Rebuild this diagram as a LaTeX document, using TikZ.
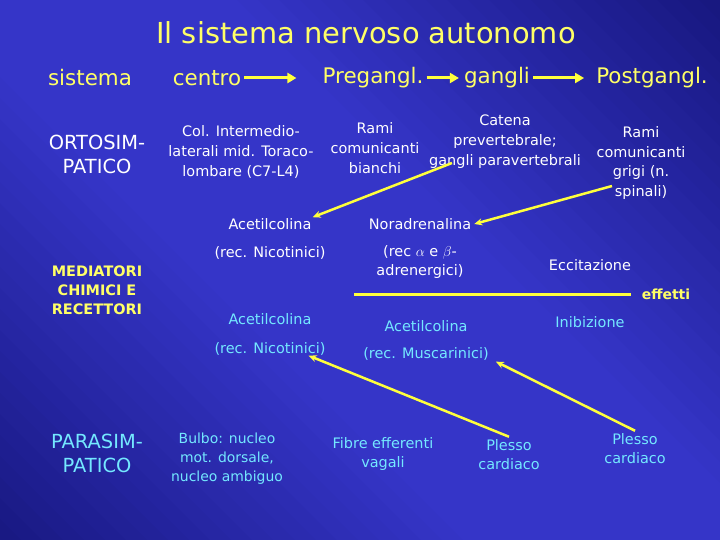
\documentclass[tikz,border=0pt]{standalone}
\usepackage{fontspec}
\setmainfont{DejaVu Sans}
\usepackage{tikz}
\usetikzlibrary{positioning,arrows.meta,calc}
\definecolor{navy}{HTML}{121272}
\definecolor{slide}{HTML}{3535C8}
\definecolor{lemon}{HTML}{FFFF66}
\definecolor{sky}{HTML}{74E8FF}
\definecolor{wire}{HTML}{FFFF3C}
\tikzset{
  titletext/.style={text=lemon, inner sep=1pt, font=\fontsize{29}{32}\selectfont},
  headtext/.style={text=lemon, inner sep=1pt, font=\fontsize{21.5}{24}\selectfont},
  rowlabel/.style={align=center, inner sep=1pt, font=\fontsize{19.5}{24}\selectfont},
  cellbox/.style={align=center, inner sep=1pt, text=white, font=\fontsize{14.5}{20}\selectfont},
  paracell/.style={cellbox, text=sky},
  medlabel/.style={align=center, inner sep=1pt, text=lemon, font=\fontsize{14.5}{19}\selectfont\bfseries},
  headarrow/.style={-{Triangle[length=9bp,width=10bp]}, line width=3bp, draw=wire, shorten <=2bp},
  fiberarrow/.style={-{Stealth[length=8bp,width=7bp]}, line width=2.5bp, draw=wire},
  effline/.style={line width=3bp, draw=wire}
}
\begin{document}
\begin{tikzpicture}[x=1bp,y=-1bp]
  % sfondo a bande diagonali
  \begin{scope}
    \clip (0,0) rectangle (720,540);
    \foreach \c in {-720,-699,...,540}{
      \pgfmathsetmacro{\t}{(\c+720)/1260}
      \pgfmathsetmacro{\m}{max(0,min(100,100-220*max(0,abs(\t-0.5)-0.12)))}
      \fill[slide!\m!navy] (-100,{-100+\c}) -- (900,{900+\c}) -- (900,{900+\c+22}) -- (-100,{-100+\c+22}) -- cycle;
    }
  \end{scope}
  \useasboundingbox (0,0) rectangle (720,540);
  % intestazione
  \node[titletext] (title) at (366,33) {Il sistema nervoso autonomo};
  \node[headtext] (sistema) at (90,78) {sistema};
  \node[headtext] (centro) at (207,78) {centro};
  \node[headtext] (pregangl) at (373,78) {Pregangl.};
  \node[headtext] (gangli) at (497,78) {gangli};
  \node[headtext] (postgangl) at (652,78) {Postgangl.};
  \draw[headarrow, shorten >=25bp] (centro) -- (pregangl);
  \draw[headarrow, shorten >=4bp] (pregangl) -- (gangli);
  \draw[headarrow, shorten >=11bp] (gangli) -- (postgangl);
  % ortosimpatico
  \node[rowlabel, text=white] (orto) at (97,154) {ORTOSIM-\\PATICO};
  \node[cellbox] (colint) at (241,152) {Col. Intermedio-\\laterali mid. Toraco-\\lombare (C7-L4)};
  \node[cellbox] (ramib) at (375,148) {Rami\\comunicanti\\bianchi};
  \node[cellbox] (catena) at (505,142) {Catena\\prevertebrale;\\gangli paravertebrali};
  \node[cellbox, font=\fontsize{14.5}{19.5}\selectfont] (ramig) at (641,163) {Rami\\comunicanti\\grigi (n.\\spinali)};
  % mediatori
  \node[medlabel] (mediatori) at (97,290) {MEDIATORI\\CHIMICI E\\RECETTORI};
  \node[cellbox] (acorto) at (270,224) {Acetilcolina};
  \node[cellbox] (nicorto) at (270,253) {(rec. Nicotinici)};
  \node[cellbox] (noradr) at (420,224) {Noradrenalina};
  \node[cellbox, font=\fontsize{14.5}{19}\selectfont] (adren) at (420,262) {(rec $\alpha$ e $\beta$-\\adrenergici)};
  \node[cellbox] (eccit) at (590,265) {Eccitazione};
  \node[medlabel, font=\fontsize{14}{19}\selectfont\bfseries] (effetti) at (666,294) {effetti};
  \coordinate (effstart) at (354,294);
  \draw[effline] (effstart) -- ([xshift=-10bp]effetti.west);
  \node[paracell] (inib) at (590,322) {Inibizione};
  \node[paracell] (acpara) at (270,319) {Acetilcolina};
  \node[paracell] (nicpara) at (270,349) {(rec. Nicotinici)};
  \node[paracell] (acmus) at (426,326) {Acetilcolina};
  \node[paracell] (muscar) at (426,354) {(rec. Muscarinici)};
  % parasimpatico
  \node[rowlabel, text=sky] (para) at (97,453) {PARASIM-\\PATICO};
  \node[paracell, font=\fontsize{14}{19}\selectfont] (bulbo) at (227,459) {Bulbo: nucleo\\mot. dorsale,\\nucleo ambiguo};
  \node[paracell, font=\fontsize{14.5}{19}\selectfont] (vagali) at (383,454) {Fibre efferenti\\vagali};
  \node[paracell, font=\fontsize{14.5}{19}\selectfont] (plesso) at (509,455) {Plesso\\cardiaco};
  \node[paracell, font=\fontsize{14.5}{19}\selectfont] (plessodx) at (635,449) {Plesso\\cardiaco};
  % fibre
  \coordinate (paraverte) at (452,163);
  \coordinate (spinali) at (612,186);
  \draw[fiberarrow] (paraverte) -- (acorto.north east);
  \draw[fiberarrow] (spinali) -- ([xshift=2bp]noradr.east);
  \draw[fiberarrow] ([yshift=2bp]plesso.north) -- ([xshift=-18bp,yshift=1bp]nicpara.south east);
  \draw[fiberarrow] ([yshift=2bp]plessodx.north) -- ([xshift=6bp]muscar.south east);
\end{tikzpicture}
\end{document}
